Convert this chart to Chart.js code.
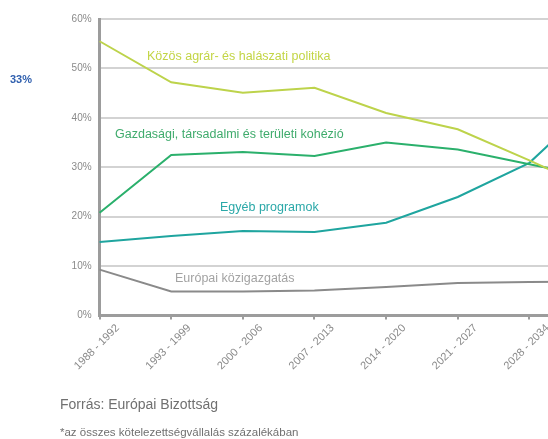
<!DOCTYPE html>
<html>
<head>
<meta charset="utf-8">
<script src="https://cdn.jsdelivr.net/npm/chart.js@4.4.1/dist/chart.umd.min.js"></script>
<style>
  body { margin: 0; overflow: hidden; background: #fff; font-family: "Liberation Sans", Arial, sans-serif; }
  #wrap { position: relative; width: 548px; height: 439px; overflow: hidden; }
  canvas { position: absolute; left: 0; top: 0; }
  .lbl { position: absolute; white-space: nowrap; line-height: 1; }
</style>
</head>
<body>
<div id="wrap">
  <canvas id="grafico" width="605" height="439"></canvas>
  <div class="lbl" style="left:10px; top:74px; font-size:11px; font-weight:bold; color:#2f5fae;">33%</div>
  <div class="lbl" style="left:147px; top:50px; font-size:12.5px; color:#c3d545;">Közös agrár- és halászati politika</div>
  <div class="lbl" style="left:115px; top:128px; font-size:12.5px; color:#3fab6c;">Gazdasági, társadalmi és területi kohézió</div>
  <div class="lbl" style="left:220px; top:201px; font-size:12.5px; color:#2aa8a8;">Egyéb programok</div>
  <div class="lbl" style="left:175px; top:272px; font-size:12.5px; color:#a3a3a3;">Európai közigazgatás</div>
  <div class="lbl" style="left:60px; top:397px; font-size:14px; color:#707070;">Forrás: Európai Bizottság</div>
  <div class="lbl" style="left:60px; top:427px; font-size:11.5px; color:#707070;">*az összes kötelezettségvállalás százalékában</div>
</div>
<script>
// idoszakok (az utolso kilog a kepbol)
var idoszakok = ["1988 - 1992", "1993 - 1999", "2000 - 2006", "2007 - 2013", "2014 - 2020", "2021 - 2027", "2028 - 2034", ""];

var agrar = [55.5, 47.2, 45.1, 46.1, 41.0, 37.7, 31.4, 24.8];
var kohezio = [20.8, 32.5, 33.1, 32.3, 35.0, 33.6, 30.6, 27.7];
var egyeb = [14.9, 16.1, 17.1, 16.9, 18.8, 24.0, 30.9, 44.4];
var igazgatas = [9.3, 4.9, 4.9, 5.1, 5.8, 6.6, 6.8, 6.9];

var yTicks = [0, 10, 20, 30, 40, 50, 60];

function sorozat(nev, adatok, szin) {
    return {
        label: nev,
        data: adatok,
        borderColor: szin,
        backgroundColor: szin,
        borderWidth: 2,
        pointRadius: 0,
        tension: 0,
        fill: false
    };
}

var ctx = document.getElementById("grafico").getContext('2d');
var grafico = new Chart(ctx, {
    type: 'line',
    data: {
        labels: idoszakok,
        datasets: [
            sorozat("Közös agrár- és halászati politika", agrar, "#bdd34b"),
            sorozat("Gazdasági, társadalmi és területi kohézió", kohezio, "#2bb06c"),
            sorozat("Egyéb programok", egyeb, "#1fa59f"),
            sorozat("Európai közigazgatás", igazgatas, "#8a8a8a")
        ]
    },
    options: {
        responsive: false,
        animation: false,
        devicePixelRatio: 1,
        layout: { padding: { top: 19, right: 4, left: 0, bottom: 0 } },
        plugins: {
            legend: { display: false },
            title: { display: false },
            tooltip: { enabled: false }
        },
        scales: {
            x: {
                offset: false,
                grid: { drawOnChartArea: false, drawTicks: true, tickLength: 4, color: "#9c9c9c", lineWidth: 2 },
                border: { color: "#9c9c9c", width: 3 },
                ticks: {
                    autoSkip: false,
                    minRotation: 45,
                    maxRotation: 45,
                    labelOffset: 18,
                    padding: 2,
                    color: "#8a8a8a",
                    font: { family: "Liberation Sans", size: 11 }
                },
                afterFit: function (scale) {
                    scale.height = 123.4;
                    scale.paddingLeft = 0;
                    scale.paddingRight = 0;
                }
            },
            y: {
                min: 0,
                max: 60,
                afterBuildTicks: function (scale) {
                    scale.ticks = yTicks.map(function (v) { return { value: v }; });
                },
                grid: { color: "#d3d3d3", lineWidth: 2, drawTicks: false },
                border: { color: "#9c9c9c", width: 3 },
                ticks: {
                    padding: 8,
                    color: "#8a8a8a",
                    font: { family: "Liberation Sans", size: 10 },
                    callback: function (v) { return v + "%"; }
                },
                afterFit: function (scale) {
                    scale.width = 99.6;
                    scale.paddingTop = 0;
                    scale.paddingBottom = 0;
                }
            }
        }
    }
});
</script>
</body>
</html>
